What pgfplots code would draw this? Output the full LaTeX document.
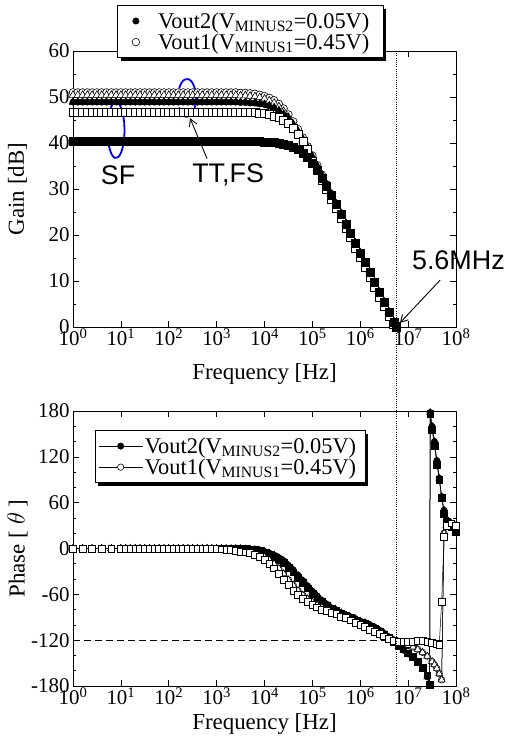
\documentclass[border=0pt]{standalone}
\usepackage{pgfplots}
\pgfplotsset{compat=1.18}
\usepackage{pgfplotstable}
\usepackage{fontspec}
\setmainfont{Liberation Serif}
\newfontfamily\arial{Liberation Sans}
\usetikzlibrary{shadows,arrows.meta}
\makeatletter
\tikzset{no preactions/.code={\let\tikz@preactions\pgfutil@empty}}
\makeatother

% x = log10(f / Hz)
% a: Vout1 TT (open circle), b: Vout1 FS (open triangle), c: Vout2 TT/FS (filled)
% d: Vout1 SF (open square), e: Vout2 SF (filled square)
\pgfplotstableread{
x    a     b     c     d     e
0.0  51.0  50.4  48.9  46.7  40.3
0.1  51.0  50.4  48.9  46.7  40.3
0.2  51.0  50.4  48.9  46.7  40.3
0.3  51.0  50.4  48.9  46.7  40.3
0.4  51.0  50.4  48.9  46.7  40.3
0.5  51.0  50.4  48.9  46.7  40.3
0.6  51.0  50.4  48.9  46.7  40.3
0.7  51.0  50.4  48.9  46.7  40.3
0.8  51.0  50.4  48.9  46.7  40.3
0.9  51.0  50.4  48.9  46.7  40.3
1.0  51.0  50.4  48.9  46.7  40.3
1.1  51.0  50.4  48.9  46.7  40.3
1.2  51.0  50.4  48.9  46.7  40.3
1.3  51.0  50.4  48.9  46.7  40.3
1.4  51.0  50.4  48.9  46.7  40.3
1.5  51.0  50.4  48.9  46.7  40.3
1.6  51.0  50.4  48.9  46.7  40.3
1.7  51.0  50.4  48.9  46.7  40.3
1.8  51.0  50.4  48.9  46.7  40.3
1.9  51.0  50.4  48.9  46.7  40.3
2.0  51.0  50.4  48.9  46.7  40.3
2.1  51.0  50.4  48.9  46.7  40.3
2.2  51.0  50.4  48.9  46.7  40.3
2.3  51.0  50.4  48.9  46.7  40.3
2.4  51.0  50.4  48.9  46.7  40.3
2.5  51.0  50.4  48.9  46.7  40.3
2.6  51.0  50.4  48.9  46.7  40.3
2.7  51.0  50.4  48.9  46.7  40.3
2.8  51.0  50.4  48.9  46.7  40.3
2.9  51.0  50.4  48.9  46.7  40.3
3.0  51.0  50.4  48.9  46.7  40.3
3.1  51.0  50.4  48.9  46.7  40.3
3.2  51.0  50.4  48.9  46.7  40.3
3.3  51.0  50.4  48.9  46.7  40.3
3.4  51.0  50.4  48.9  46.7  40.3
3.5  50.9  50.3  48.8  46.7  40.3
3.6  50.9  50.3  48.8  46.7  40.3
3.7  50.8  50.2  48.7  46.6  40.3
3.8  50.7  50.1  48.7  46.6  40.3
3.9  50.5  49.9  48.5  46.5  40.3
4.0  50.2  49.6  48.4  46.4  40.2
4.1  49.8  49.2  48.1  46.2  40.2
4.2  49.3  48.7  47.7  45.9  40.1
4.3  48.5  47.9  47.1  45.5  40.0
4.4  47.5  46.9  46.3  45.0  39.8
4.5  46.2  45.6  45.3  44.2  39.5
4.6  44.7  44.1  44.0  43.2  39.1
4.7  43.0  42.4  42.6  41.9  38.6
4.8  41.2  40.6  40.9  40.4  37.8
4.9  39.3  38.7  39.1  38.7  36.8
5.0  37.3  36.9  37.1  36.0  35.5
5.1  35.2  34.8  35.1  34.0  34.0
5.2  33.1  32.7  33.1  32.0  32.3
5.3  31.0  30.6  31.0  29.9  30.5
5.4  28.9  28.5  28.9  27.8  28.6
5.5  26.8  26.6  26.8  25.7  26.6
5.6  24.7  24.5  24.7  23.6  24.5
5.7  22.5  22.3  22.6  21.5  22.4
5.8  20.4  20.2  20.4  19.4  20.3
5.9  18.3  18.1  18.3  17.2  18.2
6.0  16.1  15.9  16.2  15.1  16.1
6.1  14.0  13.8  14.0  13.0  14.0
6.2  11.8  11.6  11.9  10.8  11.8
6.3   9.7   9.5   9.7   8.7   9.7
6.4   7.6   7.4   7.6   6.5   7.6
6.5   5.4   5.3   5.5   4.4   5.4
6.6   3.3   3.2   3.3   2.3   3.3
6.7   1.1   1.1   1.2   0.6   1.1
6.75  0.1   0.1   0.1   0.0   0.1
}\gaindata

% p: Vout2 (filled circle), q: Vout2 other corners (filled)
% r: Vout1 (open square), s: Vout1 other corners (open)
\pgfplotstableread{
x    p     q     r     s
0.0  0     0     0     0
0.2  0     0     0     0
0.4  0     0     0     0
0.6  0     0     0     0
0.8  0     0     0     0
1.0  0     0     0     0
1.1  0     0     0     0
1.2  0     0     0     0
1.3  0     0     0     0
1.4  0     0     0     0
1.5  0     0     0     0
1.6  0     0     0     0
1.7  0     0     0     0
1.8  0     0     0     0
1.9  0     0     0     0
2.0  0     0     0     0
2.1  0     0     0     0
2.2  0     0     0     0
2.3  0     0     0     0
2.4  0     0     0     0
2.5  0     0     0     0
2.6  0     0     0     0
2.7  0     0     0     0
2.8  0     0     0     0
2.9  0     0     0     0
3.0  0     0    -0.5  -0.3
3.1  0     0    -1    -0.6
3.2  0     0    -1.5  -1
3.3  0     0    -2    -1.5
3.4  0     0    -3    -2
3.5  0    -0.3  -4    -3
3.6  -0.5 -0.7  -5    -4
3.7  -1   -1.3  -6    -5
3.8  -1.5 -2    -8    -6
3.9  -2.5 -3    -11   -8
4.0  -4   -5    -15   -11
4.1  -6   -7.5  -20   -15
4.2  -8.5 -10.5 -26   -20
4.3  -12  -14.5 -33   -26
4.4  -16  -19   -41   -33
4.5  -22  -25   -48   -41
4.6  -28  -31   -55   -48
4.7  -35  -38   -61   -55
4.8  -42  -45   -66   -61
4.9  -49  -52   -70   -66
5.0  -56  -59   -74   -70
5.1  -62  -65   -77   -74
5.2  -68  -70   -80   -77
5.3  -73  -75   -82   -80
5.4  -78  -79   -84   -82
5.5  -81  -82   -86   -84
5.6  -84  -85   -89   -87
5.7  -87  -88   -91   -89
5.8  -90  -91   -94   -92
5.9  -92  -94   -97   -95
6.0  -95  -97   -100  -98
6.1  -97  -99   -103  -101
6.2  -100 -102  -106  -104
6.3  -103 -105  -109  -107
6.4  -107 -109  -112  -110
6.5  -111 -113  -115  -114
6.6  -116 -117  -118  -117
6.7  -122 -122  -121  -120
6.8  -128 -127  -122  -123
6.9  -133 -132  -122  -125
7.0  -138 -137  -122  -127
7.1  -143 -142  -122  -129
7.2  -149 -148  -121  -132
7.3  -157 -156  -121  -136
7.4  -168 -166  -122  -141
7.45 -179 -178  nan   nan
7.46 178  176   nan   nan
7.5  160  155   -123  -148
7.55 140  135   nan   -152
7.6  115  110   -125  -157
7.65 92   90    -126  -164
7.7  68   66    -70   -172
7.75 50   46    15    20
7.8  38   35    30    30
7.9  30   28    33    33
8.0  24   22    30    30
}\phasedata

\pgfplotsset{
  bode/.style={
    scale only axis, width=383bp,
    xmin=0, xmax=8, xtick={0,...,8},
    xticklabels={10\textsuperscript{0},10\textsuperscript{1},10\textsuperscript{2},10\textsuperscript{3},10\textsuperscript{4},10\textsuperscript{5},10\textsuperscript{6},10\textsuperscript{7},10\textsuperscript{8}},
    /pgf/number format/assume math mode=true,
    tick label style={font=\fontsize{21}{21}\selectfont},
    label style={font=\fontsize{23}{23}\selectfont},
    xticklabel style={yshift=2bp},
    major tick length=6bp, minor tick length=3.5bp,
    axis line style={line width=0.8bp},
    tick style={line width=0.6bp, black},
    xlabel={Frequency [Hz]},
    ylabel style={at={(axis description cs:-0.145,0.5)}, anchor=center},
    clip=false,
    legend cell align=left,
    legend style={draw=black, line width=1.2bp, fill=white,
      font=\fontsize{22.5}{22.5}\selectfont, inner ysep=5bp, row sep=0bp,
      drop shadow={shadow xshift=3bp, shadow yshift=-3bp, fill=black, opacity=1}},
  },
  opn/.style={black, line width=0.5bp, mark options={fill=white, line width=0.6bp}},
  fil/.style={black, line width=0.5bp, mark options={fill=black}},
}

\begin{document}
\begin{tikzpicture}
\useasboundingbox (-73bp,-415bp) rectangle (435bp,327bp);

\begin{axis}[bode, name=gain, height=276bp,
    ymin=0, ymax=60, ytick={0,10,...,60}, minor y tick num=1,
    ylabel={Gain [dB]},
    xlabel style={at={(axis description cs:0.5,-0.17)}, anchor=center},
    legend style={at={(0.115,1.167)}, anchor=north west, inner xsep=4bp},
    legend image code/.code={\path (0bp,0bp) (34bp,0bp); \draw[no preactions] plot coordinates {(14bp,0bp)};}]
  \addplot[fil, only marks, mark=*, mark size=3.2bp] table[x=x, y=c] {\gaindata};
  \addlegendentry{Vout2(V\textsubscript{MINUS2}=0.05V)\hspace*{8bp}}
  \addplot[opn, only marks, mark=*, mark size=3.8bp] table[x=x, y=a] {\gaindata};
  \addlegendentry{Vout1(V\textsubscript{MINUS1}=0.45V)\hspace*{8bp}}
  \addplot[opn, only marks, mark=triangle*, mark size=4.4bp, forget plot] table[x=x, y=b] {\gaindata};
  \addplot[fil, only marks, mark=triangle*, mark size=4.4bp, forget plot] table[x=x, y=c] {\gaindata};
  \addplot[opn, only marks, mark=square*, mark size=4bp, forget plot] table[x=x, y=d] {\gaindata};
  \addplot[fil, only marks, mark=square*, mark size=4bp, forget plot] table[x=x, y=e] {\gaindata};

  \draw[blue, line width=1.8bp] (axis cs:0.898,42.8) ++(150:8.5bp and 28bp)
    arc[start angle=150, end angle=-150, x radius=8.5bp, y radius=28bp];
  \draw[blue, line width=1.8bp] (axis cs:2.381,49.8) ++(150:9bp and 19bp)
    arc[start angle=150, end angle=-150, x radius=9bp, y radius=19bp];
  \node[font=\arial\fontsize{27}{27}\selectfont] at (axis cs:0.94,33) {SF};
  \node[font=\arial\fontsize{27}{27}\selectfont] at (axis cs:3.24,33) {TT,FS};
  \draw[-{Straight Barb[length=7bp,width=8bp]}, line width=0.9bp] (axis cs:2.80,36.6) -- (axis cs:2.444,45.4);
  \node[font=\arial\fontsize{27}{27}\selectfont] at (axis cs:8.05,14.6) {5.6MHz};
  \draw[-{Straight Barb[length=7bp,width=8bp]}, line width=0.9bp] (axis cs:7.67,10.2) -- (axis cs:6.83,0.9);
  \coordinate (dtop) at (axis cs:6.748,60);
\end{axis}

\begin{axis}[bode, name=phase, at={(0bp,-359bp)}, height=275bp,
    ymin=-180, ymax=180, ytick={-180,-120,...,180}, minor y tick num=2,
    ylabel={Phase [ $\theta$ ]},
    xlabel style={at={(axis description cs:0.5,-0.14)}, anchor=center},
    legend style={at={(0.057,0.931)}, anchor=north west, inner xsep=3bp},
    legend image code/.code={\draw[no preactions, mark repeat=2, mark phase=2] plot coordinates {(0bp,0bp) (22bp,0bp) (44bp,0bp)};}]
  \addplot[fil, mark=*, mark size=3.2bp] table[x=x, y=p] {\phasedata};
  \addlegendentry{Vout2(V\textsubscript{MINUS2}=0.05V)\hspace*{4bp}}
  \addplot[opn, mark=*, mark size=3.2bp] table[x=x, y=s] {\phasedata};
  \addlegendentry{Vout1(V\textsubscript{MINUS1}=0.45V)\hspace*{4bp}}
  \addplot[fil, mark=square*, mark size=3.4bp, forget plot] table[x=x, y=q] {\phasedata};
  \addplot[opn, mark=triangle*, mark size=4bp, forget plot] table[x=x, y=s] {\phasedata};
  \addplot[fil, mark=triangle*, mark size=4bp, forget plot] table[x=x, y=p] {\phasedata};
  \addplot[opn, mark=square*, mark size=3.4bp, forget plot] table[x=x, y=r] {\phasedata};
  \draw[line width=0.8bp, dash pattern=on 7bp off 4bp] (axis cs:0,-120) -- (axis cs:8,-120);
  \coordinate (dbot) at (axis cs:6.748,-180);
\end{axis}

\draw[line width=1bp, dash pattern=on 1bp off 1.2bp] (dtop) -- (dbot);
\end{tikzpicture}
\end{document}
